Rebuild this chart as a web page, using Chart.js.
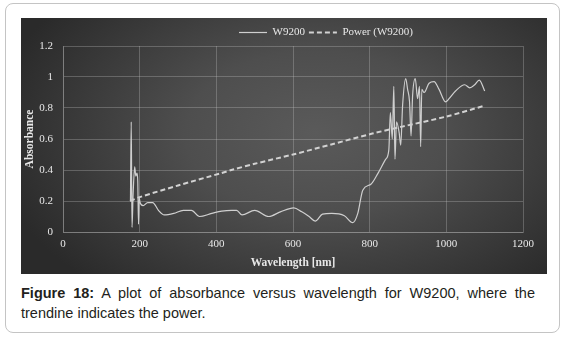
<!DOCTYPE html>
<html>
<head>
<meta charset="utf-8">
<script src="https://cdn.jsdelivr.net/npm/chart.js@4/dist/chart.umd.min.js"></script>
<style>
  html, body { margin: 0; padding: 0; background: #ffffff; }
  body { width: 565px; height: 342px; position: relative; overflow: hidden; }
  #frame { position: absolute; left: 5px; top: 3px; width: 553px; height: 328px;
           border: 1px solid #c4c4c4; border-radius: 8px; box-sizing: content-box; }
  #panel { position: absolute; left: 21px; top: 18px; width: 526px; height: 256px;
           background: radial-gradient(ellipse 62% 80% at 56% 45%, #5a5a5a 0%, #4e4e4e 40%, #3c3c3c 70%, #2a2a2a 100%); }
  #panel canvas { position: absolute; left: 0; top: 0; }
  #caption { position: absolute; left: 21px; top: 283px; width: 514px;
             font-family: "Liberation Sans", Arial, sans-serif; font-size: 14.5px; line-height: 20px; color: #231f20; }
  #caption .l1 { text-align: justify; text-align-last: justify; white-space: nowrap; }
  #caption b { font-weight: bold; }
</style>
</head>
<body>
<div id="frame"></div>
<div id="panel"><canvas id="c" width="526" height="256"></canvas></div>
<div id="caption">
  <div class="l1"><b>Figure 18:</b> A plot of absorbance versus wavelength for W9200, where the</div>
  <div>trendine indicates the power.</div>
</div>
<script>
// ---- data ----
const seriesNames = ["W9200", "Power (W9200)"];
const xTicks = [0, 200, 400, 600, 800, 1000, 1200];
const yTicks = [0, 0.2, 0.4, 0.6, 0.8, 1, 1.2];

const wavelength = [176, 178, 180, 183, 187, 190, 193, 195, 197, 199, 201, 209, 221, 234, 249, 264, 289, 314, 335, 356,
  388, 414, 440, 453, 467, 500, 537, 567, 602, 623, 642, 658, 677, 701, 734, 756, 769, 782, 804, 822,
  842, 850, 854, 859, 863, 866, 870, 877, 881, 886, 894, 899, 904, 908, 912, 919, 925, 930, 933, 936,
  942, 955, 968, 981, 998, 1007, 1024, 1048, 1061, 1074, 1086, 1100];
const absorbance = [0.20, 0.71, 0.03, 0.25, 0.42, 0.36, 0.38, 0.33, 0.05, 0.22, 0.19, 0.17, 0.19, 0.19, 0.14, 0.11, 0.12, 0.14, 0.14, 0.10,
  0.12, 0.135, 0.14, 0.14, 0.11, 0.14, 0.10, 0.13, 0.156, 0.13, 0.10, 0.07, 0.115, 0.12, 0.105, 0.06, 0.12, 0.27, 0.31, 0.38,
  0.47, 0.53, 0.77, 0.60, 0.94, 0.47, 0.71, 0.64, 0.56, 0.82, 0.99, 0.92, 0.84, 0.62, 0.88, 0.99, 0.86, 0.94, 0.55, 0.92,
  0.90, 0.96, 0.97, 0.92, 0.84, 0.86, 0.91, 0.95, 0.93, 0.95, 0.98, 0.91];

const trendWavelength = [175, 200, 300, 413, 439, 500, 600, 700, 807, 885, 1000, 1100];
const trendAbsorbance = [0.20, 0.225, 0.30, 0.38, 0.40, 0.44, 0.50, 0.565, 0.635, 0.68, 0.745, 0.815];

// ---- build chart ----
const toPoints = (xs, ys) => xs.map((x, i) => ({ x: x, y: ys[i] }));
const serif = "'Liberation Serif', 'Times New Roman', serif";
const gridCol = "rgba(200,200,200,0.30)";
const txtCol = "#e8e8e8";

const legendShift = {
  id: "legendShift",
  afterLayout(chart) {
    const lg = chart.legend;
    if (lg) { lg.left += 54; lg.right += 54; lg.top += 2; lg.bottom += 2; }
  }
};

new Chart(document.getElementById("c"), {
  type: "line",
  data: {
    datasets: [
      { label: seriesNames[0], data: toPoints(wavelength, absorbance),
        borderColor: "#cfcfcf", backgroundColor: "transparent", borderWidth: 1.2,
        pointRadius: 0, tension: 0.25, cubicInterpolationMode: "monotone" },
      { label: seriesNames[1], data: toPoints(trendWavelength, trendAbsorbance),
        borderColor: "#d2d2d2", backgroundColor: "transparent", borderWidth: 2,
        borderDash: [5, 3], pointRadius: 0, tension: 0.3 }
    ]
  },
  options: {
    responsive: false,
    animation: false,
    devicePixelRatio: 1,
    layout: { padding: { left: 0, right: 24, top: 3, bottom: 0 } },
    plugins: {
      legend: {
        display: true, position: "top", align: "center",
        labels: {
          color: txtCol, usePointStyle: true, pointStyle: "line", pointStyleWidth: 28,
          boxWidth: 28, padding: 4, font: { family: serif, size: 11 },
          generateLabels(chart) {
            const items = Chart.defaults.plugins.legend.labels.generateLabels(chart);
            return items.map(it => {
              const ds = chart.data.datasets[it.datasetIndex];
              it.lineDash = ds.borderDash || [];
              it.lineWidth = ds.borderWidth;
              it.strokeStyle = ds.borderColor;
              it.pointStyle = "line";
              return it;
            });
          }
        }
      },
      tooltip: { enabled: false }
    },
    scales: {
      x: {
        type: "linear", min: xTicks[0], max: xTicks[xTicks.length - 1],
        afterBuildTicks(s) { s.ticks = xTicks.map(v => ({ value: v })); },
        afterFit(s) { s.height = 42; },
        grid: { color: gridCol, drawTicks: false },
        border: { color: gridCol },
        ticks: { color: txtCol, padding: 6, font: { family: serif, size: 11 },
                 callback: v => String(v) },
        title: { display: true, text: "Wavelength [nm]", color: txtCol,
                 font: { family: serif, size: 11.5, weight: "bold" }, padding: { top: 0, bottom: 4 } }
      },
      y: {
        min: yTicks[0], max: yTicks[yTicks.length - 1],
        afterBuildTicks(s) { s.ticks = yTicks.map(v => ({ value: v })); },
        afterFit(s) { s.width = 42; },
        grid: { color: gridCol, drawTicks: false },
        border: { color: gridCol },
        ticks: { color: txtCol, padding: 10, font: { family: serif, size: 11 },
                 callback: v => String(Math.round(v * 10) / 10) },
        title: { display: true, text: "Absorbance", color: txtCol,
                 font: { family: serif, size: 11.5, weight: "bold" }, padding: { top: 2, bottom: 0 } }
      }
    }
  },
  plugins: [legendShift]
});
</script>
</body>
</html>
